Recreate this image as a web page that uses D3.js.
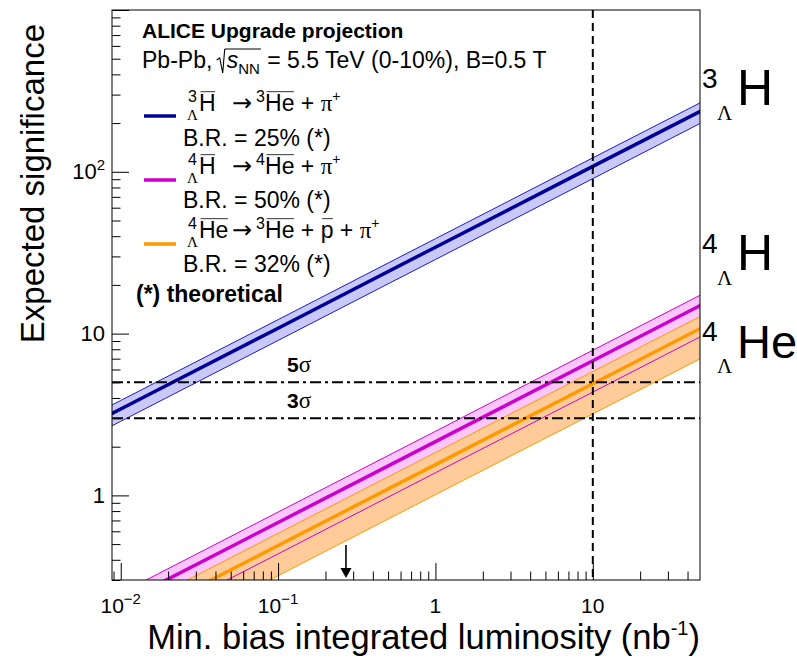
<!DOCTYPE html>
<html>
<head>
<meta charset="utf-8">
<script src="https://cdn.jsdelivr.net/npm/d3@7"></script>
<style>
  html, body { margin: 0; padding: 0; background: #fff; }
  svg { display: block; }
  text { font-family: "Liberation Sans", Arial, Helvetica, sans-serif; fill: #000; white-space: pre; }
</style>
</head>
<body>
<svg id="chart" width="797" height="658"></svg>
<script>
// Integrated luminosity points (nb^-1) at which the expected significance is tabulated
const lumi = [0.005, 0.01, 0.1, 1, 10, 50];

// Hypertriton 3LH -> 3He + pi+  (central value and uncertainty band)
const sigH3    = [2.42, 3.42, 10.8, 34.2, 108, 241];
const sigH3Hi  = [2.73, 3.86, 12.2, 38.6, 122, 272];
const sigH3Lo  = [2.03, 2.87, 9.07, 28.7, 90.7, 203];

// Hyperhydrogen-4 4LH -> 4He + pi+
const sigH4    = [0.152, 0.215, 0.68, 2.15, 6.8, 15.2];
const sigH4Hi  = [0.176, 0.249, 0.789, 2.49, 7.89, 17.6];
const sigH4Lo  = [0.097, 0.138, 0.435, 1.38, 4.35, 9.73];

// Hyperhelium-4 4LHe -> 3He + p + pi+
const sigHe4   = [0.110, 0.155, 0.49, 1.55, 4.9, 10.96];
const sigHe4Hi = [0.131, 0.184, 0.583, 1.84, 5.83, 13.0];
const sigHe4Lo = [0.0712, 0.101, 0.319, 1.01, 3.19, 7.12];

// Reference levels
const sigmaLevels = [5, 3];
const sigmaLabels = ["5", "3"];
const lumiTarget = 10;      // vertical dashed marker
const lumiArrow = 0.27;     // arrow marker on the luminosity axis

// Axis tick labels
const xTickValues = [0.01, 0.1, 1, 10];
const xTickBase   = ["10", "10", "1", "10"];
const xTickExp    = ["\u22122", "\u22121", "", ""];
const yTickValues = [1, 10, 100];
const yTickBase   = ["1", "10", "10"];
const yTickExp    = ["", "", "2"];

const svg = d3.select("#chart");
const W = 797, H = 658;
svg.append("rect").attr("width", W).attr("height", H).attr("fill", "#fff");

const plot = { left: 112, right: 700, top: 10, bottom: 580 };
const x = d3.scaleLog().domain([0.0088, 48]).range([plot.left, plot.right]);
const y = d3.scaleLog().domain([0.3, 1000]).range([plot.bottom, plot.top]);

svg.append("defs").append("clipPath").attr("id", "plotClip")
  .append("rect")
  .attr("x", plot.left).attr("y", plot.top)
  .attr("width", plot.right - plot.left).attr("height", plot.bottom - plot.top);

const serif = "'Liberation Serif', 'Times New Roman', serif";
const sans = "'Liberation Sans', Arial, Helvetica, sans-serif";

const series = [
  { c: sigH3,  hi: sigH3Hi,  lo: sigH3Lo,  line: "#000099", edge: "#1a1acc", fill: "#c9c9f7" },
  { c: sigH4,  hi: sigH4Hi,  lo: sigH4Lo,  line: "#cc00cc", edge: "#cc00cc", fill: "#fbc6fb" },
  { c: sigHe4, hi: sigHe4Hi, lo: sigHe4Lo, line: "#ff9900", edge: "#ff9900", fill: "#ffcc99" }
];

const gData = svg.append("g").attr("clip-path", "url(#plotClip)");
const idx = d3.range(lumi.length);

const area = (hi, lo) => d3.area()
  .x(i => x(lumi[i])).y0(i => y(lo[i])).y1(i => y(hi[i]))(idx);
const line = arr => d3.line().x(i => x(lumi[i])).y(i => y(arr[i]))(idx);

// bands first, then edges and central curves on top
series.forEach(s => {
  gData.append("path").attr("d", area(s.hi, s.lo)).attr("fill", s.fill).attr("stroke", "none");
});
series.forEach(s => {
  gData.append("path").attr("d", line(s.hi)).attr("fill", "none").attr("stroke", s.edge).attr("stroke-width", 1);
  gData.append("path").attr("d", line(s.lo)).attr("fill", "none").attr("stroke", s.edge).attr("stroke-width", 1);
});
series.forEach(s => {
  gData.append("path").attr("d", line(s.c)).attr("fill", "none").attr("stroke", s.line).attr("stroke-width", 3.5);
});

// significance thresholds (dash-dotted)
sigmaLevels.forEach(v => {
  svg.append("line")
    .attr("x1", plot.left).attr("x2", plot.right)
    .attr("y1", y(v)).attr("y2", y(v))
    .attr("stroke", "#000").attr("stroke-width", 2)
    .attr("stroke-dasharray", "11,4,3,4");
});

// vertical dashed line at the target luminosity
svg.append("line")
  .attr("x1", x(lumiTarget)).attr("x2", x(lumiTarget))
  .attr("y1", plot.top).attr("y2", plot.bottom)
  .attr("stroke", "#000").attr("stroke-width", 2)
  .attr("stroke-dasharray", "8,5");

// arrow on the luminosity axis
{
  const ax = x(lumiArrow);
  svg.append("line").attr("x1", ax).attr("x2", ax).attr("y1", 545).attr("y2", 570)
    .attr("stroke", "#000").attr("stroke-width", 1.6);
  svg.append("path")
    .attr("d", `M${ax - 5.5},${568} L${ax + 5.5},${568} L${ax},${578} Z`)
    .attr("fill", "#000");
}

// axes: ticks drawn inward from the frame
function minorTicks(lo, hi) {
  const out = [];
  for (let e = -3; e <= 3; e++) {
    for (let k = 1; k <= 9; k++) {
      const v = k * Math.pow(10, e);
      if (v >= lo * 0.999 && v <= hi * 1.001) out.push(v);
    }
  }
  return out;
}
const xMajor = [0.01, 0.1, 1, 10];
const xMinor = minorTicks(0.0088, 48).filter(v => !xMajor.some(m => Math.abs(m - v) / m < 1e-6));
const yMajor = [1, 10, 100, 1000];
const yMinor = minorTicks(0.3, 1000).filter(v => !yMajor.some(m => Math.abs(m - v) / m < 1e-6));

const axisStyle = g => {
  g.select(".domain").remove();
  g.selectAll("line").attr("stroke", "#000").attr("stroke-width", 1);
};
svg.append("g").attr("transform", `translate(0,${plot.bottom})`)
  .call(d3.axisBottom(x).tickValues(xMajor).tickSize(-17).tickFormat("")).call(axisStyle);
svg.append("g").attr("transform", `translate(0,${plot.bottom})`)
  .call(d3.axisBottom(x).tickValues(xMinor).tickSize(-8.5).tickFormat("")).call(axisStyle);
svg.append("g").attr("transform", `translate(${plot.left},0)`)
  .call(d3.axisLeft(y).tickValues(yMajor).tickSize(-17).tickFormat("")).call(axisStyle);
svg.append("g").attr("transform", `translate(${plot.left},0)`)
  .call(d3.axisLeft(y).tickValues(yMinor).tickSize(-8.5).tickFormat("")).call(axisStyle);

// frame
svg.append("rect")
  .attr("x", plot.left).attr("y", plot.top)
  .attr("width", plot.right - plot.left).attr("height", plot.bottom - plot.top)
  .attr("fill", "none").attr("stroke", "#000").attr("stroke-width", 1);

// tick labels
xTickValues.forEach((v, i) => {
  const t = svg.append("text").attr("x", x(v)).attr("y", 613)
    .attr("text-anchor", "middle").style("font-size", "21px");
  t.append("tspan").text(xTickBase[i]);
  if (xTickExp[i]) t.append("tspan").attr("dy", -9).style("font-size", "15px").text(xTickExp[i]);
});
yTickValues.forEach((v, i) => {
  const t = svg.append("text").attr("x", 105).attr("y", y(v) + 7.5)
    .attr("text-anchor", "end").style("font-size", "22px");
  t.append("tspan").text(yTickBase[i]);
  if (yTickExp[i]) t.append("tspan").attr("dy", -9).style("font-size", "15px").text(yTickExp[i]);
});

// axis titles
{
  const t = svg.append("text").attr("x", 700).attr("y", 649)
    .attr("text-anchor", "end").style("font-size", "34.5px");
  t.append("tspan").text("Min. bias integrated luminosity (nb");
  t.append("tspan").attr("dy", -14).style("font-size", "20px").text("-1");
  t.append("tspan").attr("dy", 14).text(")");
}
svg.append("text")
  .attr("transform", "translate(44,24) rotate(-90)")
  .attr("text-anchor", "end").style("font-size", "33px")
  .text("Expected significance");

// rich text: a run of segments on one baseline, measured piece by piece
function rich(segs, x0, base) {
  let cx = x0;
  segs.forEach(s => {
    if (s.x !== undefined) cx = s.x;
    if (s.gap) cx += s.gap;
    const fs = s.size || 23;
    const t = svg.append("text")
      .attr("x", cx).attr("y", base + (s.dy || 0))
      .attr("xml:space", "preserve")
      .style("font-size", fs + "px")
      .style("font-family", s.family || sans)
      .style("font-weight", s.weight || "normal")
      .style("font-style", s.style || "normal")
      .text(s.t);
    const w = t.node().getComputedTextLength();
    if (s.bar) {
      svg.append("line")
        .attr("x1", cx + 1.5).attr("x2", cx + w - 0.5)
        .attr("y1", base - fs * 0.84).attr("y2", base - fs * 0.84)
        .attr("stroke", "#000").attr("stroke-width", 0.8);
    }
    if (!s.noAdvance) cx += w;
  });
  return cx;
}

// header
rich([{ t: "ALICE Upgrade projection", weight: "bold", size: 21 }], 142, 38);
{
  const base = 68;
  const fs = 23;
  let cx = rich([{ t: "Pb-Pb, ", size: fs }], 142, base);
  const rx = cx + 1;
  svg.append("path")
    .attr("d", `M${rx - 3},${base - 8} L${rx},${base - 10} L${rx + 3},${base + 5} L${rx + 5},${base - 19}`)
    .attr("fill", "none").attr("stroke", "#000").attr("stroke-width", 1.1);
  const sx = rx + 7;
  const ex = rich([
    { t: "s", size: fs, style: "italic" },
    { t: "NN", size: 15, dy: 6 }
  ], sx, base);
  svg.append("line").attr("x1", rx + 5).attr("x2", ex + 1)
    .attr("y1", base - 19).attr("y2", base - 19)
    .attr("stroke", "#000").attr("stroke-width", 1);
  rich([{ t: " = 5.5 TeV (0-10%), B=0.5 T", size: fs }], ex + 1, base);
}

// legend entries
const arrowFont = "'DejaVu Sans', sans-serif";
const legendRows = [
  { color: "#000099", lineY: 116, base: 111, brBase: 146, br: "B.R. = 25% (*)",
    segs: [
      { t: "3", size: 16, dy: -9, x: 188, noAdvance: true },
      { t: "\u039B", size: 15, dy: 9, family: serif, x: 187, noAdvance: true },
      { t: "H", x: 199, bar: true },
      { t: "\u2192", x: 232, family: arrowFont, size: 24 },
      { t: "3", size: 16, dy: -9, gap: 4 },
      { t: "He", bar: true },
      { t: " + " },
      { t: "\u03C0", family: serif },
      { t: "+", size: 14, dy: -10 }
    ] },
  { color: "#cc00cc", lineY: 180, base: 174, brBase: 208, br: "B.R. = 50% (*)",
    segs: [
      { t: "4", size: 16, dy: -9, x: 188, noAdvance: true },
      { t: "\u039B", size: 15, dy: 9, family: serif, x: 187, noAdvance: true },
      { t: "H", x: 199, bar: true },
      { t: "\u2192", x: 232, family: arrowFont, size: 24 },
      { t: "4", size: 16, dy: -9, gap: 4 },
      { t: "He", bar: true },
      { t: " + " },
      { t: "\u03C0", family: serif },
      { t: "+", size: 14, dy: -10 }
    ] },
  { color: "#ff9900", lineY: 244, base: 238, brBase: 272, br: "B.R. = 32% (*)",
    segs: [
      { t: "4", size: 16, dy: -9, x: 188, noAdvance: true },
      { t: "\u039B", size: 15, dy: 9, family: serif, x: 187, noAdvance: true },
      { t: "He", x: 199, bar: true },
      { t: "\u2192", x: 232, family: arrowFont, size: 24 },
      { t: "3", size: 16, dy: -9, gap: 4 },
      { t: "He", bar: true },
      { t: " + " },
      { t: "p", bar: true },
      { t: " + " },
      { t: "\u03C0", family: serif },
      { t: "+", size: 14, dy: -10 }
    ] }
];
legendRows.forEach(r => {
  svg.append("line").attr("x1", 144).attr("x2", 176)
    .attr("y1", r.lineY).attr("y2", r.lineY)
    .attr("stroke", r.color).attr("stroke-width", 3.5);
  rich(r.segs, 188, r.base);
  rich([{ t: r.br, size: 23 }], 183, r.brBase);
});
rich([{ t: "(*) theoretical", weight: "bold", size: 23 }], 136, 302);

// sigma labels
sigmaLevels.forEach((v, i) => {
  const t = svg.append("text").attr("x", 287).attr("y", y(v) - 10)
    .style("font-size", "21px").style("font-weight", "bold");
  t.append("tspan").text(sigmaLabels[i]);
  t.append("tspan").style("font-family", serif).style("font-weight", "normal").style("font-size", "23px").text("\u03C3");
});

// species labels at the right of the frame
const speciesLabels = [
  { a: "3", name: "H",  base: 105, size: 50 },
  { a: "4", name: "H",  base: 270, size: 50 },
  { a: "4", name: "He", base: 358, size: 47 }
];
speciesLabels.forEach(s => {
  svg.append("text").attr("x", 702).attr("y", s.base - 17).style("font-size", "28px").text(s.a);
  svg.append("text").attr("x", 717).attr("y", s.base + 15)
    .style("font-family", serif).style("font-size", "21px").text("\u039B");
  svg.append("text").attr("x", 737).attr("y", s.base).style("font-size", s.size + "px").text(s.name);
});
</script>
</body>
</html>
